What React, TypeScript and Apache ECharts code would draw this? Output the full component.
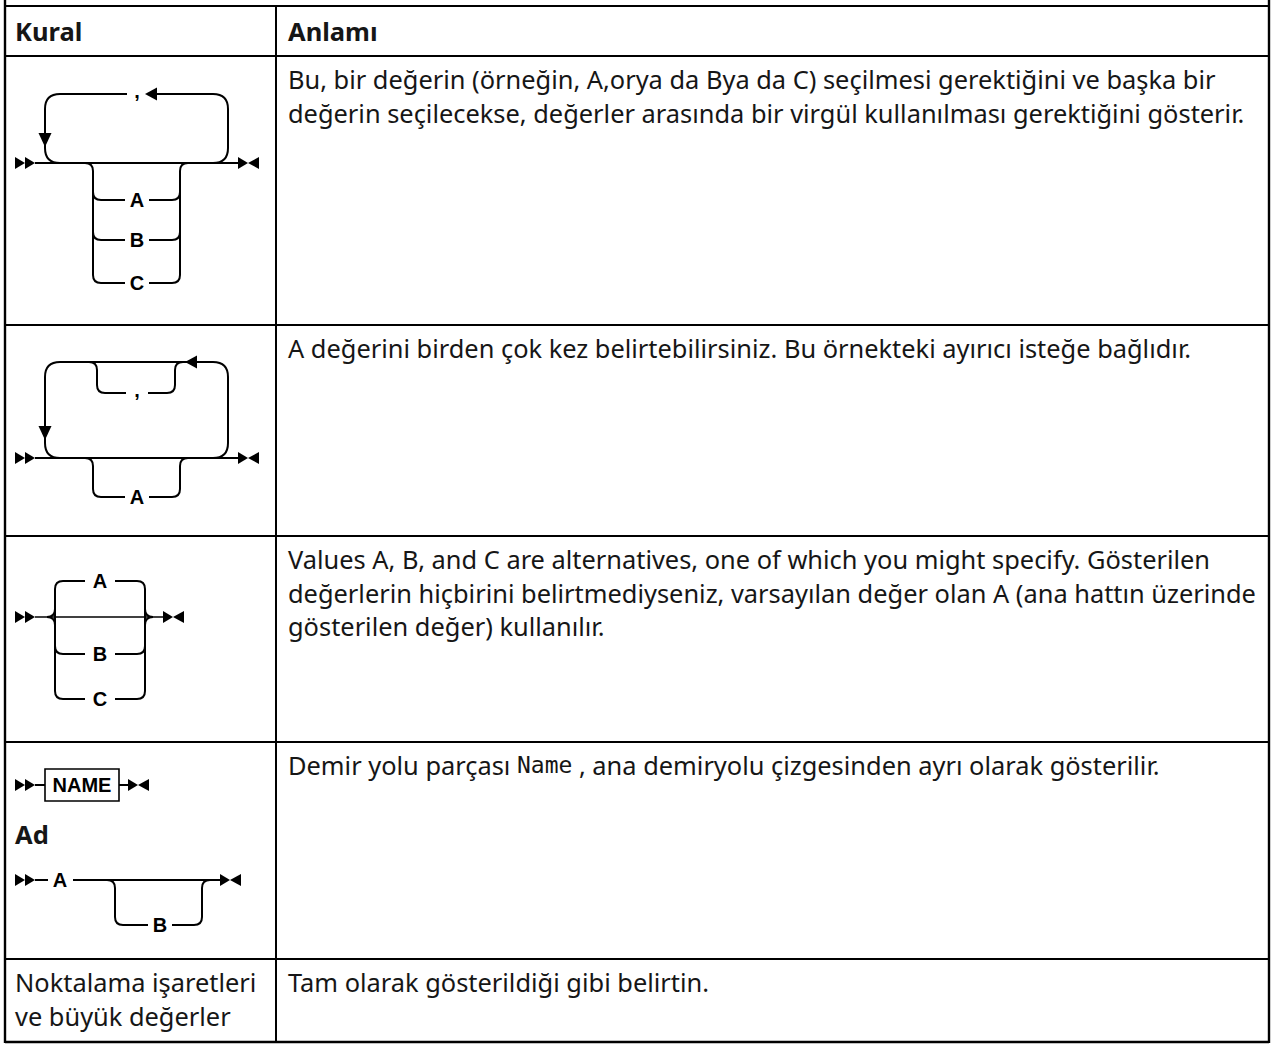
import React, { useEffect, useRef } from 'react';
import * as echarts from 'echarts';

// ---- content ----
const headers = ['Kural', 'Anlamı'];
const meanings: string[][] = [
  [
    'Bu, bir değerin (örneğin, A,orya da Bya da C) seçilmesi gerektiğini ve başka bir',
    'değerin seçilecekse, değerler arasında bir virgül kullanılması gerektiğini gösterir.',
  ],
  ['A değerini birden çok kez belirtebilirsiniz. Bu örnekteki ayırıcı isteğe bağlıdır.'],
  [
    'Values A, B, and C are alternatives, one of which you might specify. Gösterilen',
    'değerlerin hiçbirini belirtmediyseniz, varsayılan değer olan A (ana hattın üzerinde',
    'gösterilen değer) kullanılır.',
  ],
  ['Demir yolu parçası {m|Name} , ana demiryolu çizgesinden ayrı olarak gösterilir.'],
  ['Tam olarak gösterildiği gibi belirtin.'],
];
const lastRuleLines = ['Noktalama işaretleri', 've büyük değerler'];
const choiceLabels = ['A', 'B', 'C'];
const repeatLabel = 'A';
const separator = ',';
const fragmentName = 'NAME';
const fragmentTitle = 'Ad';
const optionalLabels = ['A', 'B'];

// ---- layout ----
const W = 1274;
const H = 1044;
const X_LEFT = 5;
const X_RIGHT = 1269;
const X_COL = 276;
const ROW_Y = [6, 56, 325, 536, 742, 959, 1042];
const BODY_FONT = '"Noto Sans", sans-serif';
const BODY_SIZE = 25.4;
const HEAD_SIZE = 25.5;
const LINE_H = 33.5;
const INK = '#161616';
const S = '#000';
const LW = 2;
const LABEL_SIZE = 20;

function seg(x1: number, y1: number, x2: number, y2: number, lw = LW): any {
  return { type: 'line', shape: { x1, y1, x2, y2 }, style: { stroke: S, lineWidth: lw } };
}
function curve(x1: number, y1: number, cx: number, cy: number, x2: number, y2: number): any {
  return {
    type: 'bezierCurve',
    shape: { x1, y1, x2, y2, cpx1: cx, cpy1: cy },
    style: { stroke: S, lineWidth: LW, fill: null },
  };
}
function tri(points: number[][]): any {
  return { type: 'polygon', shape: { points }, style: { fill: S } };
}
function startMarker(x: number, y: number): any[] {
  return [
    tri([[x, y - 6], [x + 10, y], [x, y + 6]]),
    tri([[x + 10, y - 6], [x + 20, y], [x + 10, y + 6]]),
  ];
}
function endMarker(x: number, y: number): any[] {
  return [
    tri([[x, y - 6], [x + 10, y], [x, y + 6]]),
    tri([[x + 21, y - 6], [x + 10, y], [x + 21, y + 6]]),
  ];
}
function arrowLeft(tipX: number, y: number): any {
  return tri([[tipX + 12, y - 6.5], [tipX, y], [tipX + 12, y + 6.5]]);
}
function arrowDown(x: number, tipY: number): any {
  return tri([[x - 6.5, tipY - 14], [x + 6.5, tipY - 14], [x, tipY]]);
}
function label(text: string, x: number, y: number, size = LABEL_SIZE): any {
  return {
    type: 'text',
    x,
    y,
    style: {
      text,
      fontSize: size,
      fontWeight: 'bold',
      fontFamily: '"Liberation Sans", Arial, sans-serif',
      fill: S,
      align: 'center',
      verticalAlign: 'middle',
    },
  };
}
function comma(x: number, lineY: number): any {
  return label(separator, x, lineY - 3);
}
// branch below a vertical (╰ ... ╯)
function branchDown(xl: number, xr: number, y: number, lab: string, lx: number, gap: number, isComma = false): any[] {
  return [
    curve(xl, y - 8, xl, y, xl + 8, y),
    seg(xl + 8, y, lx - gap, y),
    isComma ? comma(lx, y) : label(lab, lx, y),
    seg(lx + gap, y, xr - 8, y),
    curve(xr - 8, y, xr, y, xr, y - 8),
  ];
}
// branch above a vertical (╭ ... ╮)
function branchUp(xl: number, xr: number, y: number, lab: string, lx: number, gap: number): any[] {
  return [
    curve(xl, y + 8, xl, y, xl + 8, y),
    seg(xl + 8, y, lx - gap, y),
    label(lab, lx, y),
    seg(lx + gap, y, xr - 8, y),
    curve(xr - 8, y, xr, y, xr, y + 8),
  ];
}
// big loop with rounded corners between main line and top line
function loop(xl: number, xr: number, top: number, mainY: number): any[] {
  const r = 15;
  return [
    seg(xl, top + r, xl, mainY - r),
    seg(xr, top + r, xr, mainY - r),
    curve(xl, top + r, xl, top, xl + r, top),
    curve(xr - r, top, xr, top, xr, top + r),
    curve(xl, mainY - r, xl, mainY, xl + r, mainY),
    curve(xr, mainY - r, xr, mainY, xr - r, mainY),
  ];
}
// drop from a line into a column (┐ ... ┌)
function drop(xl: number, xr: number, lineY: number, bottomY: number): any[] {
  return [
    curve(xl - 8, lineY, xl, lineY, xl, lineY + 8),
    seg(xl, lineY + 8, xl, bottomY - 8),
    curve(xr, lineY + 8, xr, lineY, xr + 8, lineY),
    seg(xr, lineY + 8, xr, bottomY - 8),
  ];
}

function diagram1(): any[] {
  const y = 163;
  const top = 94;
  const ys = [200, 240, 283];
  const els: any[] = [];
  els.push(...startMarker(15, y), seg(35, y, 238, y), ...endMarker(238, y));
  els.push(...loop(45, 228, top, y));
  els.push(seg(60, top, 127, top), comma(137, top), seg(157, top, 213, top), arrowLeft(145, top));
  els.push(arrowDown(45, 147));
  els.push(...drop(93, 180, y, ys[2]));
  choiceLabels.forEach((l, i) => els.push(...branchDown(93, 180, ys[i], l, 137, 12)));
  return els;
}

function diagram2(): any[] {
  const y = 458;
  const top = 362;
  const els: any[] = [];
  els.push(...startMarker(15, y), seg(35, y, 238, y), ...endMarker(238, y));
  els.push(...loop(45, 228, top, y));
  els.push(seg(60, top, 213, top), arrowLeft(185, top));
  els.push(arrowDown(45, 440));
  els.push(...drop(97, 175, top, 393));
  els.push(...branchDown(97, 175, 393, separator, 137, 11, true));
  els.push(...drop(93, 180, y, 497));
  els.push(...branchDown(93, 180, 497, repeatLabel, 137, 12));
  return els;
}

function diagram3(): any[] {
  const y = 617;
  const ys = [581, 654, 699];
  const xl = 55;
  const xr = 145;
  const els: any[] = [];
  els.push(...startMarker(15, y), seg(35, y, 163, y, 1.6), ...endMarker(163, y));
  els.push(seg(xl, ys[0] + 8, xl, ys[2] - 8), seg(xr, ys[0] + 8, xr, ys[2] - 8));
  els.push(...branchUp(xl, xr, ys[0], choiceLabels[0], 100, 15));
  els.push(...branchDown(xl, xr, ys[1], choiceLabels[1], 100, 15));
  els.push(...branchDown(xl, xr, ys[2], choiceLabels[2], 100, 15));
  // brace points
  els.push(
    curve(xl - 8, y, xl, y, xl, y - 8),
    curve(xl - 8, y, xl, y, xl, y + 8),
    curve(xr, y - 8, xr, y, xr + 8, y),
    curve(xr, y + 8, xr, y, xr + 8, y),
  );
  return els;
}

function diagram4(): any[] {
  const y1 = 785;
  const y2 = 880;
  const yb = 925;
  const els: any[] = [];
  els.push(...startMarker(15, y1), seg(35, y1, 45, y1));
  els.push({
    type: 'rect',
    shape: { x: 45, y: 769, width: 74, height: 32 },
    style: { stroke: S, lineWidth: 1.6, fill: '#fff' },
  });
  els.push(label(fragmentName, 82, y1, 20));
  els.push(seg(119, y1, 128, y1), ...endMarker(128, y1));
  els.push({
    type: 'text',
    x: 15,
    y: 834,
    style: {
      text: fragmentTitle,
      fontSize: HEAD_SIZE,
      fontWeight: 'bold',
      fontFamily: BODY_FONT,
      fill: INK,
      align: 'left',
      verticalAlign: 'middle',
    },
  });
  els.push(...startMarker(15, y2), seg(35, y2, 48, y2), label(optionalLabels[0], 60, y2));
  els.push(seg(73, y2, 220, y2), ...endMarker(220, y2));
  els.push(...drop(115, 202, y2, yb));
  els.push(...branchDown(115, 202, yb, optionalLabels[1], 160, 12));
  return els;
}

function bodyText(text: string, x: number, y: number, bold = false): any {
  return {
    type: 'text',
    x,
    y,
    style: {
      text,
      fontSize: bold ? HEAD_SIZE : BODY_SIZE,
      fontWeight: bold ? 'bold' : 'normal',
      fontFamily: BODY_FONT,
      fill: INK,
      align: 'left',
      verticalAlign: 'middle',
      rich: {
        m: {
          fontFamily: '"DejaVu Sans Mono", "Liberation Mono", monospace',
          fontSize: 23,
          fill: INK,
          verticalAlign: 'middle',
        },
      },
    },
  };
}

function buildElements(): any[] {
  const els: any[] = [];
  els.push({ type: 'rect', shape: { x: 0, y: 0, width: W, height: H }, style: { fill: '#fff' }, z: -10 });
  // grid
  els.push(seg(X_LEFT, 0, X_LEFT, ROW_Y[6] + 1, 2.4));
  els.push(seg(X_RIGHT, 0, X_RIGHT, ROW_Y[6] + 1, 2.4));
  els.push(seg(X_COL, ROW_Y[0], X_COL, ROW_Y[6], 2));
  ROW_Y.forEach((ry, i) => {
    els.push(seg(X_LEFT, ry, X_RIGHT, ry, i === ROW_Y.length - 1 ? 2.6 : 2));
  });
  // header
  els.push(bodyText(headers[0], 15, 30.5, true));
  els.push(bodyText(headers[1], 288, 30.5, true));
  // meanings
  meanings.forEach((lines, r) => {
    lines.forEach((ln, k) => {
      els.push(bodyText(ln, 288, ROW_Y[r + 1] + 23 + k * LINE_H));
    });
  });
  lastRuleLines.forEach((ln, k) => els.push(bodyText(ln, 15, ROW_Y[5] + 23 + k * LINE_H)));
  els.push(...diagram1(), ...diagram2(), ...diagram3(), ...diagram4());
  return els;
}

export default function App() {
  const ref = useRef<HTMLDivElement>(null);
  useEffect(() => {
    if (!ref.current) return;
    const chart = echarts.init(ref.current, undefined, { renderer: 'svg' });
    chart.setOption({
      animation: false,
      graphic: { elements: buildElements() },
    });
    return () => chart.dispose();
  }, []);
  return (
    <div
      ref={ref}
      style={{ position: 'fixed', left: 0, top: 0, width: W, height: H, background: '#fff' }}
    />
  );
}
